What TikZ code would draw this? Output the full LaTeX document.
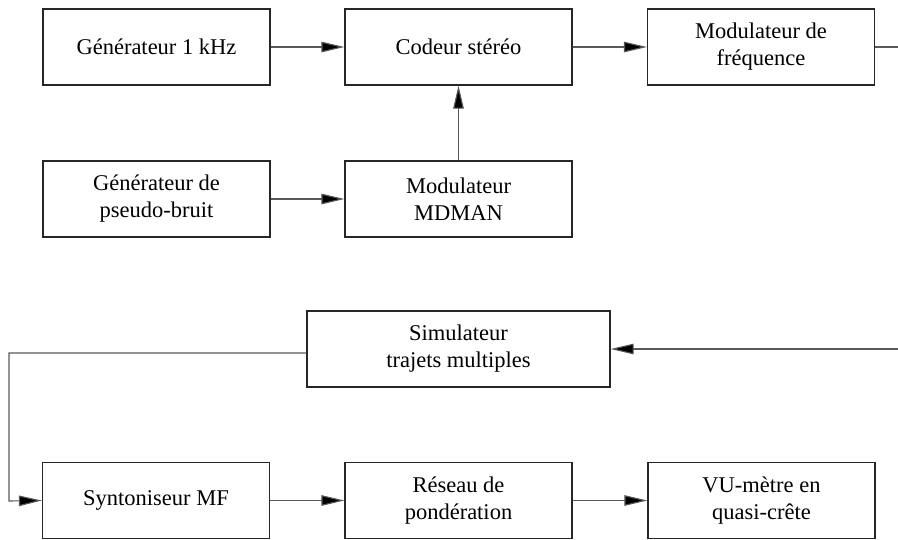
\documentclass[tikz,border=0pt]{standalone}
\usepackage{fontspec}
\setmainfont{Liberation Serif}
\usetikzlibrary{arrows.meta}
\begin{document}
\begin{tikzpicture}[x=1pt,y=-1pt,
  blk/.style={draw=black!85,line width=1.2pt,minimum width=227pt,minimum height=76pt,inner sep=0pt,align=center,font=\fontsize{22.5}{27}\selectfont},
  conn/.style={draw=black!65,line width=1.1pt,-{Triangle[length=23pt,width=10.5pt,fill=black]}},
  wire/.style={draw=black!65,line width=1.1pt}]
\useasboundingbox (0,0) rectangle (898,539);
\node[blk] (gen) at (156.5,47) {Générateur 1 kHz};
\node[blk] (cod) at (458.5,47) {Codeur stéréo};
\node[blk] (modf) at (761,47) {Modulateur de\\fréquence};
\node[blk] (pse) at (156.5,199) {Générateur de\\pseudo-bruit};
\node[blk] (mdm) at (458.5,199) {Modulateur\\MDMAN};
\node[blk,minimum width=303pt] (sim) at (458.5,349) {Simulateur\\trajets multiples};
\node[blk] (syn) at (156,500.5) {Syntoniseur MF};
\node[blk] (res) at (458.5,500.5) {Réseau de\\pondération};
\node[blk] (vu) at (761.5,500.5) {VU-mètre en\\quasi-crête};
\coordinate (rout) at (898,47);
\coordinate (rin) at (898,349);
\coordinate (lc1) at (9,353);
\coordinate (lc2) at (9,501);
\draw[conn] (gen) -- (cod);
\draw[conn] (cod) -- (modf);
\draw[conn] (pse) -- (mdm);
\draw[conn] (mdm) -- (cod);
\draw[wire] (modf.east) -- (rout);
\draw[conn] (rin) -- (sim.east);
\draw[conn] (sim.west |- lc1) -- (lc1) -- (lc2) -- (syn.west);
\draw[conn] (syn) -- (res);
\draw[conn] (res) -- (vu);
\end{tikzpicture}
\end{document}
